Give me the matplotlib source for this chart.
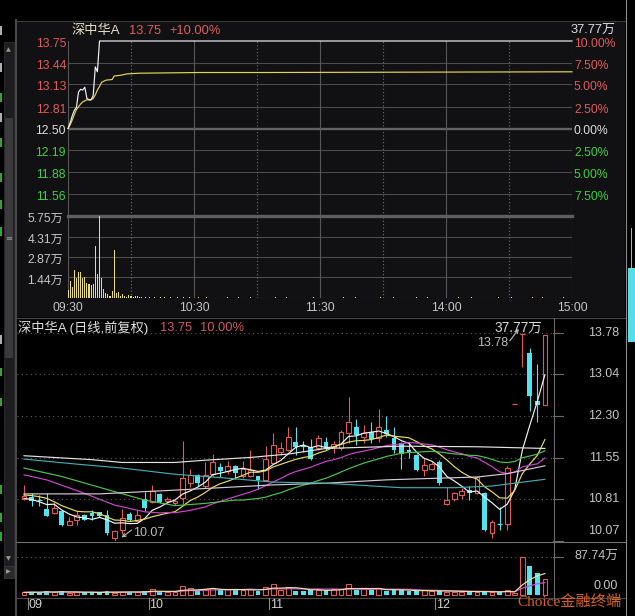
import numpy as np
import pandas as pd
import matplotlib
matplotlib.use("Agg")
import matplotlib.pyplot as plt
import matplotlib.transforms as mtransforms
from matplotlib.patches import Rectangle

W, H, DPI = 635, 616, 100
plt.rcParams['font.family'] = ['Liberation Sans', 'Noto Sans CJK SC']
plt.rcParams['axes.unicode_minus'] = False

# ---------------------------------------------------------------- data
stock_name = "深中华A"
last_price = 13.75
prev_close = 12.50
pct_change = 10.00

# intraday: minutes after 09:30 (120 = 11:30 / 13:00, 240 = 15:00)
price_ticks = [13.75, 13.44, 13.13, 12.81, 12.50, 12.19, 11.88, 11.56]
pct_labels = ["10.00%", "7.50%", "5.00%", "2.50%", "0.00%", "2.50%", "5.00%", "7.50%"]
minute_vol_ticks = [5.75, 4.31, 2.87, 1.44]
time_ticks = [0, 60, 120, 180, 240]
time_labels = ["09:30", "10:30", "11:30", "14:00", "15:00"]

opening_prices = [12.50, 12.58, 12.68, 12.76, 12.80, 13.02, 13.06, 13.05,
                  13.09, 12.93, 12.91, 12.91, 12.97, 13.38, 13.31, 13.75]
limit_up_price = 13.75

avg_minutes = [0, 1, 2, 3, 4, 5, 6, 7, 9, 11, 12, 13, 14, 15, 16, 18, 21, 22,
               25, 28, 34, 63, 95, 240]
avg_prices = [12.50, 12.55, 12.62, 12.70, 12.77, 12.81, 12.85, 12.88, 12.91,
              12.91, 12.93, 12.98, 13.05, 13.10, 13.16, 13.19, 13.20, 13.25,
              13.26, 13.28, 13.29, 13.30, 13.30, 13.31]

early_minute_vol = [0.54, 1.21, 0.75, 1.98, 1.38, 1.82, 1.82, 1.38, 1.45, 1.07,
                    1.00, 0.89, 1.00, 3.67, 1.70, 5.75, 1.38, 0.63, 0.33, 0.28,
                    0.12, 0.49, 3.39, 0.35, 0.40, 0.16, 0.28, 0.12, 0.05, 0.19,
                    0.12, 0.10, 0.14, 0.12, 0.10, 0.07]
late_trade_minutes = [37, 39, 41, 44, 46, 49, 52, 55, 58, 62, 66, 71, 76, 81,
                      87, 93, 99, 104, 112, 117, 124, 131, 137, 142, 149, 155,
                      161, 166, 171, 178, 186, 192, 199, 205, 211, 216, 221,
                      226, 231, 236]
late_trade_vol = [0.06, 0.08, 0.05, 0.04, 0.06, 0.05, 0.04, 0.05, 0.04, 0.05,
                  0.04, 0.03, 0.05, 0.04, 0.04, 0.03, 0.04, 0.05, 0.03, 0.04,
                  0.03, 0.05, 0.04, 0.03, 0.04, 0.05, 0.03, 0.04, 0.04, 0.03,
                  0.04, 0.05, 0.03, 0.04, 0.04, 0.03, 0.05, 0.04, 0.03, 0.04]

# daily candles (forward adjusted), volume in 万
month_first_index = [1, 17, 33, 55]
month_labels = ["09", "10", "11", "12"]
opens = [10.82, 10.86, 10.81, 10.64, 10.57, 10.60, 10.36, 10.45, 10.54, 10.57,
         10.58, 10.54, 10.12, 10.26, 10.55, 10.43, 10.81, 10.77, 10.91, 10.79,
         10.75, 10.83, 11.11, 11.25, 11.05, 11.26, 11.39, 11.31, 11.41, 11.22,
         11.23, 11.22, 11.16, 11.46, 11.66, 11.69, 11.83, 11.79, 11.74, 11.72,
         11.83, 11.75, 11.72, 12.00, 12.11, 11.93, 12.01, 11.90, 12.04, 11.90,
         11.81, 11.69, 11.60, 11.33, 11.35, 11.47, 10.73, 10.82, 10.89, 10.98,
         10.92, 10.92, 10.21, 10.39, 10.37, 12.51, 13.76, 13.42, 12.57, 12.50]
highs = [11.07, 10.92, 10.89, 10.92, 10.76, 10.61, 10.50, 10.60, 10.55, 10.62,
         10.59, 10.62, 10.26, 10.64, 10.58, 10.63, 10.94, 11.06, 10.93, 10.85,
         10.80, 11.86, 11.35, 11.27, 11.47, 11.62, 11.46, 11.50, 11.42, 11.49,
         11.69, 11.23, 11.77, 12.00, 11.84, 12.11, 12.11, 11.85, 11.88, 11.96,
         11.93, 11.86, 12.05, 12.63, 12.24, 12.14, 12.19, 12.42, 12.29, 12.11,
         11.84, 11.84, 11.62, 11.55, 11.48, 11.52, 11.03, 10.94, 11.01, 11.05,
         11.23, 10.95, 10.45, 10.68, 11.40, 12.51, 13.78, 13.51, 13.23, 13.75]
lows = [10.80, 10.70, 10.70, 10.51, 10.56, 10.34, 10.35, 10.35, 10.44, 10.45,
        10.50, 10.18, 10.07, 10.20, 10.43, 10.42, 10.61, 10.75, 10.75, 10.74,
        10.72, 10.73, 11.04, 11.05, 11.01, 11.22, 11.21, 11.26, 11.18, 11.19,
        11.21, 10.99, 11.15, 11.45, 11.61, 11.68, 11.61, 11.65, 11.52, 11.69,
        11.70, 11.63, 11.69, 11.81, 11.78, 11.81, 11.81, 11.84, 11.93, 11.63,
        11.35, 11.55, 11.32, 11.23, 11.33, 11.07, 10.71, 10.79, 10.82, 10.80,
        10.90, 10.24, 10.13, 10.27, 10.27, 12.51, 13.18, 12.38, 12.20, 12.50]
closes = [10.87, 10.79, 10.80, 10.52, 10.65, 10.35, 10.43, 10.54, 10.45, 10.51,
          10.52, 10.22, 10.24, 10.48, 10.44, 10.54, 10.66, 10.97, 10.77, 10.82,
          10.78, 11.19, 11.25, 11.11, 11.25, 11.47, 11.31, 11.41, 11.29, 11.35,
          11.34, 11.16, 11.53, 11.78, 11.72, 11.93, 11.74, 11.74, 11.53, 11.91,
          11.75, 11.80, 12.01, 12.20, 11.96, 11.99, 11.89, 12.11, 11.98, 11.69,
          11.62, 11.65, 11.33, 11.43, 11.44, 11.11, 10.80, 10.92, 10.96, 10.92,
          11.21, 10.26, 10.40, 10.38, 11.37, 12.51, 13.76, 12.66, 12.50, 13.75]
volumes = [6, 7, 6, 9, 6, 9, 5, 6, 6, 6, 6, 9, 5, 8, 7, 6, 9, 13, 8, 6,
           6, 21, 17, 9, 13, 16, 11, 13, 11, 11, 14, 10, 19, 25, 11, 19, 10, 9, 11, 12,
           11, 13, 14, 25, 11, 13, 11, 16, 10, 11, 11, 9, 9, 11, 9, 9, 8, 8, 8, 7,
           8, 8, 6, 7, 11, 4, 87.74, 67, 51, 37.77]

# moving-average lines before enough history is on screen
ma5_head = [10.83, 10.81, 10.77, 10.72]
ma10_head = [10.89, 10.88, 10.86, 10.83, 10.77, 10.70, 10.65, 10.60, 10.59]
ma20_head_idx = [0, 3, 8, 12, 16, 18]
ma20_head = [11.25, 11.16, 10.92, 10.71, 10.59, 10.57]
ma30_head_idx = [0, 5, 12, 16, 20, 24, 28]
ma30_head = [11.37, 11.22, 10.95, 10.80, 10.70, 10.74, 10.80]
# long averages
ma60_idx = [0, 9, 13, 20, 24, 30, 35, 40, 50, 60, 69]
ma60 = [11.59, 11.52, 11.47, 11.47, 11.51, 11.56, 11.62, 11.72, 11.76, 11.75, 11.72]
ma120_idx = [0, 10, 19, 26, 33, 40, 48, 55, 60, 64, 69]
ma120 = [10.91, 10.91, 10.97, 11.02, 11.07, 11.10, 11.16, 11.19, 11.21, 11.27, 11.41]
ma250_idx = [0, 7, 13, 20, 26, 33, 40, 50, 57, 62, 69]
ma250 = [11.53, 11.44, 11.37, 11.26, 11.20, 11.12, 11.10, 11.02, 11.02, 11.05, 11.17]

daily_price_ticks = [13.78, 13.04, 12.30, 11.55, 10.81, 10.07]

# ---------------------------------------------------------------- colours
RED_TXT = '#e25b5b'
GRN_TXT = '#3fd13f'
WHITE_TXT = '#dcdcdc'
GRAY_TXT = '#c4c4c4'
CANDLE_RED = '#e15a55'
CANDLE_CYAN = '#52e3ee'
GRID = '#4d4d4d'

fig = plt.figure(figsize=(W / DPI, H / DPI), dpi=DPI, facecolor='black')


def box(x0, y0, x1, y1):
    return [x0 / W, 1 - y1 / H, (x1 - x0) / W, (y1 - y0) / H]


def tag(ax, text, xy, coords, dx, dy, color, ha, va='center', size=8.7, **kw):
    ax.annotate(text, xy=xy, xycoords=coords, xytext=(dx, dy),
                textcoords='offset pixels', color=color, ha=ha, va=va,
                fontsize=size, annotation_clip=False, **kw)


# ---------------------------------------------------------------- canvas / frame
bg = fig.add_axes([0, 0, 1, 1], zorder=0)
bg.set_xlim(0, W)
bg.set_ylim(H, 0)
bg.axis('off')
bg.add_patch(Rectangle((16, 21), 609, 296, facecolor='#111114', edgecolor='none'))
bg.plot([15, 626], [20.5, 20.5], color='#3a3a3a', lw=0.8)
bg.plot([15.5, 15.5], [20, 616], color='#4a4a4a', lw=1.4)
bg.plot([625.5, 625.5], [0, 616], color='#8c8c8c', lw=0.8)
bg.plot([16, 625], [317.5, 317.5], color='#4a4a4a', lw=0.8)
bg.plot([16, 625], [541.5, 541.5], color='#707070', lw=0.8)
bg.plot([16, 625], [597.5, 597.5], color='#4a4a4a', lw=0.8)
bg.plot([553.5, 553.5], [318, 600], color='#6a6a6a', lw=0.8)

# left scroll bar
bg.add_patch(Rectangle((3.5, 42), 10, 528, facecolor='#1d1d1f', edgecolor='#2e2e2e', lw=0.6))
bg.add_patch(Rectangle((4.5, 118), 8, 240, facecolor='#3a3a3d', edgecolor='none'))
bg.text(8.5, 50, '▲', color='#9a9a9a', fontsize=4.5, ha='center', va='center',
        family='DejaVu Sans')
bg.text(8.5, 239, '≡', color='#9a9a9a', fontsize=6, ha='center', va='center',
        family='DejaVu Sans')
bg.text(8.5, 559, '▼', color='#9a9a9a', fontsize=4.5, ha='center', va='center',
        family='DejaVu Sans')
bg.add_patch(Rectangle((3.5, 566), 10, 12, facecolor='#2a2a2c', edgecolor='#3a3a3a', lw=0.6))
bg.text(8.5, 572, '▶', color='#9a9a9a', fontsize=4.5, ha='center', va='center',
        family='DejaVu Sans')
# edges of the neighbouring list column
for yy, hh, col in [(26, 9, WHITE_TXT), (63, 9, WHITE_TXT), (93, 9, GRN_TXT),
                    (113, 9, WHITE_TXT), (138, 9, GRN_TXT), (173, 9, GRN_TXT),
                    (200, 9, GRN_TXT), (227, 9, GRN_TXT), (335, 9, WHITE_TXT),
                    (368, 8, GRN_TXT), (398, 8, GRN_TXT), (485, 9, GRN_TXT),
                    (513, 9, GRN_TXT), (532, 9, GRN_TXT)]:
    bg.add_patch(Rectangle((0, yy), 2, hh, facecolor=col, edgecolor='none', alpha=0.8))

# right edge of the neighbouring window
bg.plot([630.5, 630.5], [228, 268], color='#cfcfcf', lw=0.6)
bg.add_patch(Rectangle((628, 268), 8, 74, facecolor='#55dde8', edgecolor='none'))

# ---------------------------------------------------------------- intraday price
ax_p = fig.add_axes(box(68, 41, 572, 216), zorder=2)
ax_p.set_xlim(0, 240)
ax_p.set_ylim(11.25, 13.75)
ax_p.axis('off')
for p in price_ticks[1:]:
    thick = abs(p - prev_close) < 1e-9
    ax_p.axhline(p, color='#626262' if thick else GRID, lw=1.7 if thick else 0.75, zorder=1)
for m in [0, 60, 120, 180, 240]:
    ax_p.axvline(m, color='#585858', lw=0.8, zorder=1)
for m in [30, 90, 150, 210]:
    ax_p.axvline(m, color='#707070', lw=0.8, ls=(0, (1, 2)), zorder=1)

minutes = np.arange(241)
intraday_price = opening_prices + [limit_up_price] * (241 - len(opening_prices))
ax_p.plot(avg_minutes, avg_prices, color='#e6d64c', lw=0.85, zorder=3, clip_on=False)
ax_p.plot(minutes, intraday_price, color='#f2f2f2', lw=0.85, zorder=4, clip_on=False)

for p, lab in zip(price_ticks, pct_labels):
    col = RED_TXT if p > prev_close + 1e-9 else (WHITE_TXT if abs(p - prev_close) < 1e-9 else GRN_TXT)
    tag(ax_p, f"{p:.2f}", (0, p), ('axes fraction', 'data'), -2, -3, col, 'right')
    tag(ax_p, lab, (1, p), ('axes fraction', 'data'), 2, -3, col, 'left')

# ---------------------------------------------------------------- intraday volume
ax_v = fig.add_axes(box(68, 216, 572, 298), zorder=2)
ax_v.set_xlim(0, 240)
ax_v.set_ylim(0, 5.75)
ax_v.axis('off')
for v in minute_vol_ticks[1:]:
    ax_v.axhline(v, color=GRID, lw=0.75, zorder=1)
ax_v.axhline(5.75, color='#5e5e5e', lw=2.4, zorder=2, clip_on=False)
ax_v.axhline(0, color='#505050', lw=0.8, zorder=1)
for m in [0, 60, 120, 180, 240]:
    ax_v.axvline(m, color='#585858', lw=0.8, zorder=1)
for m in [30, 90, 150, 210]:
    ax_v.axvline(m, color='#707070', lw=0.8, ls=(0, (1, 2)), zorder=1)
ax_v.bar(np.arange(len(early_minute_vol)), early_minute_vol, width=0.5,
         color='#e8dc78', zorder=3, lw=0)
ax_v.bar(late_trade_minutes, late_trade_vol, width=0.5, color='#e8dc78', zorder=3, lw=0)
for v in minute_vol_ticks:
    tag(ax_v, f"{v:.2f}万", (0, v), ('axes fraction', 'data'), -5, -3, GRAY_TXT, 'right')
for m, lab in zip(time_ticks, time_labels):
    tag(ax_v, lab, (m, 0), 'data', 0, -10, GRAY_TXT, 'center')

# titles of the intraday panel
bg.text(71, 31, stock_name, color='#e4e0c0', fontsize=9.5, ha='left', va='center')
bg.text(129, 31, f"{last_price:.2f}", color=RED_TXT, fontsize=9.3, ha='left', va='center')
bg.text(169, 31, f"+{pct_change:.2f}%", color=RED_TXT, fontsize=9.3, ha='left', va='center')
bg.text(615, 31, f"{volumes[-1]:.2f}万", color=WHITE_TXT, fontsize=9.3, ha='right', va='center')

# ---------------------------------------------------------------- daily candles
n = len(closes)
idx = np.arange(n)
o, hi, lo, c = map(np.asarray, (opens, highs, lows, closes))
prev = np.concatenate([[c[0]], c[:-1]])
up = (c > o) | ((c == o) & (c >= prev))
body_w = 0.64

ax_k = fig.add_axes(box(17, 318, 553, 541), zorder=2)
ax_k.set_xlim(-0.927, 70.07)
ax_k.set_ylim(10.07, 14.045)
ax_k.axis('off')
for p in daily_price_ticks[:-1]:
    ax_k.axhline(p, color='#5c5c5c', lw=0.8, ls=(0, (1, 3)), zorder=1)
right_tick = mtransforms.blended_transform_factory(ax_k.transAxes, ax_k.transData)
for p in daily_price_ticks:
    ax_k.plot([1.0, 1.019], [p, p], color='#6a6a6a', lw=0.8, transform=right_tick,
              clip_on=False)
    tag(ax_k, f"{p:.2f}", (1, p), ('axes fraction', 'data'), 66,
        10 if p == daily_price_ticks[-1] else 0, GRAY_TXT, 'right', size=9)

for i in idx:
    col = CANDLE_RED if up[i] else CANDLE_CYAN
    top, bot = max(o[i], c[i]), min(o[i], c[i])
    ax_k.vlines(i, bot, hi[i], color=col, lw=0.8, zorder=2)
    ax_k.vlines(i, lo[i], top, color=col, lw=0.8, zorder=2)
    if top - bot < 0.02:
        ax_k.hlines(c[i], i - body_w / 2, i + body_w / 2, color=col, lw=0.9, zorder=3)
    elif up[i]:
        ax_k.bar(i, top - bot, bottom=bot, width=body_w, facecolor='black',
                 edgecolor=col, lw=0.8, zorder=3)
    else:
        ax_k.bar(i, top - bot, bottom=bot, width=body_w, color=col, lw=0, zorder=3)

cs = pd.Series(closes)
ma_lines = [
    (list(range(4)) + list(range(4, n)), ma5_head + cs.rolling(5).mean()[4:].tolist(), '#f4f4f4'),
    (list(range(9)) + list(range(9, n)), ma10_head + cs.rolling(10).mean()[9:].tolist(), '#e8de62'),
    (ma20_head_idx + list(range(19, n)), ma20_head + cs.rolling(20).mean()[19:].tolist(), '#cf45cf'),
    (ma30_head_idx + list(range(29, n)), ma30_head + cs.rolling(30).mean()[29:].tolist(), '#4cc44c'),
    (ma60_idx, ma60, '#e4e4e4'),
    (ma120_idx, ma120, '#d8c8d8'),
    (ma250_idx, ma250, '#45a9b4'),
]
for xs, ys, col in ma_lines:
    ax_k.plot(xs, ys, color=col, lw=0.85, zorder=4)

# extreme value marks
i_hi = int(np.argmax(hi))
i_lo = int(np.argmin(lo))
hi_anchor = mtransforms.offset_copy(ax_k.transData, fig=fig, x=-3.5, y=4, units='dots')
ax_k.annotate('', xy=(i_hi, hi[i_hi]), xycoords=hi_anchor, xytext=(-9, -12),
              textcoords='offset pixels',
              arrowprops=dict(arrowstyle='->', color='#bdbdbd', lw=0.8,
                              shrinkA=0, shrinkB=0, mutation_scale=6),
              annotation_clip=False)
tag(ax_k, f"{hi[i_hi]:.2f}", (i_hi, hi[i_hi]), 'data', -14, -10, '#bdbdbd', 'right', size=9)
lo_anchor = mtransforms.offset_copy(ax_k.transData, fig=fig, x=7, y=3.5, units='dots')
ax_k.annotate('', xy=(i_lo, lo[i_lo]), xycoords=lo_anchor, xytext=(10, 7.5),
              textcoords='offset pixels',
              arrowprops=dict(arrowstyle='->', color='#bdbdbd', lw=0.8,
                              shrinkA=0, shrinkB=0, mutation_scale=6),
              annotation_clip=False)
tag(ax_k, f"{lo[i_lo]:.2f}", (i_lo, lo[i_lo]), 'data', 18, 8, '#bdbdbd', 'left', size=9)

# daily title
bg.text(18, 328, f"{stock_name} (日线,前复权)", color='#e2e2e2', fontsize=9.5,
        ha='left', va='center')
bg.text(160, 328, f"{last_price:.2f}", color='#d0566a', fontsize=9.3, ha='left', va='center')
bg.text(200, 328, f"{pct_change:.2f}%", color='#d0566a', fontsize=9.3, ha='left', va='center')
bg.text(542, 328, f"{volumes[-1]:.2f}万", color='#d8d8d8', fontsize=9.8, ha='right', va='center')

# ---------------------------------------------------------------- daily volume
ax_kv = fig.add_axes(box(17, 541, 553, 598), zorder=2)
ax_kv.set_xlim(-0.927, 70.07)
ax_kv.set_ylim(-6.93, 124.7)
ax_kv.axis('off')
vmax = max(volumes)
ax_kv.axhline(vmax, color='#5c5c5c', lw=0.8, ls=(0, (1, 3)), zorder=1)
vt = mtransforms.blended_transform_factory(ax_kv.transAxes, ax_kv.transData)
ax_kv.plot([1.0, 1.019], [vmax, vmax], color='#6a6a6a', lw=0.8, transform=vt, clip_on=False)
vol = np.asarray(volumes, dtype=float)
ax_kv.bar(idx[up], vol[up], width=body_w, facecolor='black', edgecolor=CANDLE_RED,
          lw=0.8, zorder=2)
ax_kv.bar(idx[~up], vol[~up], width=body_w, color=CANDLE_CYAN, lw=0, zorder=2)
vs = pd.Series(volumes, dtype=float)
ax_kv.plot(idx, vs.rolling(10, min_periods=1).mean(), color='#d24fd2', lw=0.85, zorder=3)
ax_kv.plot(idx, vs.rolling(5, min_periods=1).mean(), color='#ece6a2', lw=0.85, zorder=3)
tag(ax_kv, f"{vmax:.2f}万", (1, vmax), ('axes fraction', 'data'), 65, 0, GRAY_TXT, 'right', size=9)
tag(ax_kv, "0.00", (1, 0), ('axes fraction', 'data'), 65, 9, GRAY_TXT, 'right', size=9)

# month ticks
mt = mtransforms.blended_transform_factory(ax_kv.transData, ax_kv.transAxes)
for first, lab in zip(month_first_index, month_labels):
    xm = first - 0.5
    ax_kv.plot([xm, xm], [0, -0.2], color='#8a8a8a', lw=0.8, transform=mt, clip_on=False)
    ax_kv.text(xm + 0.1, -0.13, lab, transform=mt, color='#d2d2d2', fontsize=9,
               ha='left', va='center')

# watermark
bg.text(517, 601, "Choice金融终端", color='#ee6a22', fontsize=11, ha='left',
        va='center', family=['Liberation Serif', 'Noto Sans CJK SC'], alpha=0.92,
        zorder=10)

fig.savefig('out.png', dpi=DPI, facecolor='black')
